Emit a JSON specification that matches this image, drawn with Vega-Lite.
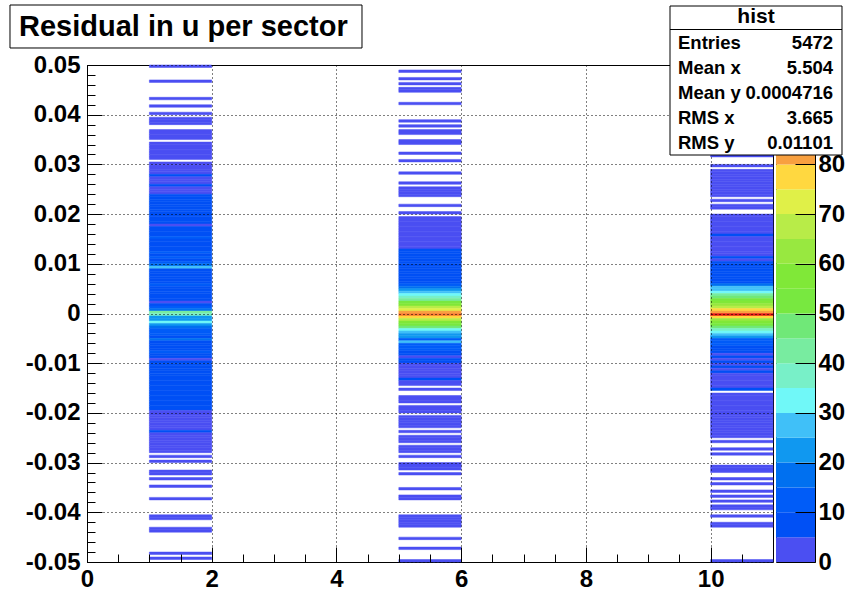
{
"$schema": "https://vega.github.io/schema/vega-lite/v6.json",
"autosize": {"type": "pad"},
"padding": {"left": 8, "top": 4, "right": 0, "bottom": 0},
"background": "white",
"bounds": "flush",
"spacing": 3,
"config": {
  "view": {"stroke": "black", "strokeWidth": 1},
  "axis": {"labelFont": "Liberation Sans", "labelFontWeight": "bold", "labelFontSize": 24, "labelColor": "black", "tickColor": "black", "tickWidth": 1, "domain": false, "labelOverlap": false, "labelFlush": false}
},
"resolve": {"scale": {"color": "independent", "x": "independent", "y": "independent"}},
"datasets": {
"pal": [{"lo":0,"hi":5},{"lo":5,"hi":10},{"lo":10,"hi":15},{"lo":15,"hi":20},{"lo":20,"hi":25},{"lo":25,"hi":30},{"lo":30,"hi":35},{"lo":35,"hi":40},{"lo":40,"hi":45},{"lo":45,"hi":50},{"lo":50,"hi":55},{"lo":55,"hi":60},{"lo":60,"hi":65},{"lo":65,"hi":70},{"lo":70,"hi":75},{"lo":75,"hi":80},{"lo":80,"hi":85},{"lo":85,"hi":90},{"lo":90,"hi":95},{"lo":95,"hi":100}],
"h": [
{"x":1,"x2":2,"y":0.0495,"y2":0.05,"n":1},
{"x":1,"x2":2,"y":0.0465,"y2":0.047,"n":1},
{"x":1,"x2":2,"y":0.043,"y2":0.0435,"n":1},
{"x":1,"x2":2,"y":0.0415,"y2":0.042,"n":1},
{"x":1,"x2":2,"y":0.04,"y2":0.0405,"n":1},
{"x":1,"x2":2,"y":0.039,"y2":0.0395,"n":2},
{"x":1,"x2":2,"y":0.0385,"y2":0.039,"n":2},
{"x":1,"x2":2,"y":0.038,"y2":0.0385,"n":1},
{"x":1,"x2":2,"y":0.0365,"y2":0.037,"n":2},
{"x":1,"x2":2,"y":0.036,"y2":0.0365,"n":1},
{"x":1,"x2":2,"y":0.0355,"y2":0.036,"n":2},
{"x":1,"x2":2,"y":0.035,"y2":0.0355,"n":1},
{"x":1,"x2":2,"y":0.034,"y2":0.0345,"n":2},
{"x":1,"x2":2,"y":0.0335,"y2":0.034,"n":3},
{"x":1,"x2":2,"y":0.033,"y2":0.0335,"n":2},
{"x":1,"x2":2,"y":0.0325,"y2":0.033,"n":3},
{"x":1,"x2":2,"y":0.032,"y2":0.0325,"n":2},
{"x":1,"x2":2,"y":0.0315,"y2":0.032,"n":3},
{"x":1,"x2":2,"y":0.031,"y2":0.0315,"n":2},
{"x":1,"x2":2,"y":0.03,"y2":0.0305,"n":3},
{"x":1,"x2":2,"y":0.0295,"y2":0.03,"n":4},
{"x":1,"x2":2,"y":0.029,"y2":0.0295,"n":3},
{"x":1,"x2":2,"y":0.0285,"y2":0.029,"n":4},
{"x":1,"x2":2,"y":0.028,"y2":0.0285,"n":3},
{"x":1,"x2":2,"y":0.0275,"y2":0.028,"n":6},
{"x":1,"x2":2,"y":0.027,"y2":0.0275,"n":4},
{"x":1,"x2":2,"y":0.0265,"y2":0.027,"n":3},
{"x":1,"x2":2,"y":0.026,"y2":0.0265,"n":4},
{"x":1,"x2":2,"y":0.0255,"y2":0.026,"n":6},
{"x":1,"x2":2,"y":0.025,"y2":0.0255,"n":4},
{"x":1,"x2":2,"y":0.0245,"y2":0.025,"n":4},
{"x":1,"x2":2,"y":0.024,"y2":0.0245,"n":4},
{"x":1,"x2":2,"y":0.0235,"y2":0.024,"n":7},
{"x":1,"x2":2,"y":0.023,"y2":0.0235,"n":8},
{"x":1,"x2":2,"y":0.0225,"y2":0.023,"n":6},
{"x":1,"x2":2,"y":0.022,"y2":0.0225,"n":9},
{"x":1,"x2":2,"y":0.0215,"y2":0.022,"n":7},
{"x":1,"x2":2,"y":0.021,"y2":0.0215,"n":8},
{"x":1,"x2":2,"y":0.0205,"y2":0.021,"n":6},
{"x":1,"x2":2,"y":0.02,"y2":0.0205,"n":7},
{"x":1,"x2":2,"y":0.0195,"y2":0.02,"n":9},
{"x":1,"x2":2,"y":0.019,"y2":0.0195,"n":8},
{"x":1,"x2":2,"y":0.0185,"y2":0.019,"n":7},
{"x":1,"x2":2,"y":0.018,"y2":0.0185,"n":6},
{"x":1,"x2":2,"y":0.0175,"y2":0.018,"n":4},
{"x":1,"x2":2,"y":0.017,"y2":0.0175,"n":7},
{"x":1,"x2":2,"y":0.0165,"y2":0.017,"n":8},
{"x":1,"x2":2,"y":0.016,"y2":0.0165,"n":6},
{"x":1,"x2":2,"y":0.0155,"y2":0.016,"n":8},
{"x":1,"x2":2,"y":0.015,"y2":0.0155,"n":11},
{"x":1,"x2":2,"y":0.0145,"y2":0.015,"n":7},
{"x":1,"x2":2,"y":0.014,"y2":0.0145,"n":9},
{"x":1,"x2":2,"y":0.0135,"y2":0.014,"n":8},
{"x":1,"x2":2,"y":0.013,"y2":0.0135,"n":6},
{"x":1,"x2":2,"y":0.0125,"y2":0.013,"n":9},
{"x":1,"x2":2,"y":0.012,"y2":0.0125,"n":11},
{"x":1,"x2":2,"y":0.0115,"y2":0.012,"n":9},
{"x":1,"x2":2,"y":0.011,"y2":0.0115,"n":12},
{"x":1,"x2":2,"y":0.0105,"y2":0.011,"n":9},
{"x":1,"x2":2,"y":0.01,"y2":0.0105,"n":13},
{"x":1,"x2":2,"y":0.0095,"y2":0.01,"n":16},
{"x":1,"x2":2,"y":0.009,"y2":0.0095,"n":27},
{"x":1,"x2":2,"y":0.0085,"y2":0.009,"n":8},
{"x":1,"x2":2,"y":0.008,"y2":0.0085,"n":9},
{"x":1,"x2":2,"y":0.0075,"y2":0.008,"n":7},
{"x":1,"x2":2,"y":0.007,"y2":0.0075,"n":9},
{"x":1,"x2":2,"y":0.0065,"y2":0.007,"n":8},
{"x":1,"x2":2,"y":0.006,"y2":0.0065,"n":9},
{"x":1,"x2":2,"y":0.0055,"y2":0.006,"n":11},
{"x":1,"x2":2,"y":0.005,"y2":0.0055,"n":9},
{"x":1,"x2":2,"y":0.0045,"y2":0.005,"n":8},
{"x":1,"x2":2,"y":0.004,"y2":0.0045,"n":9},
{"x":1,"x2":2,"y":0.0035,"y2":0.004,"n":7},
{"x":1,"x2":2,"y":0.003,"y2":0.0035,"n":9},
{"x":1,"x2":2,"y":0.0025,"y2":0.003,"n":8},
{"x":1,"x2":2,"y":0.002,"y2":0.0025,"n":4},
{"x":1,"x2":2,"y":0.0015,"y2":0.002,"n":8},
{"x":1,"x2":2,"y":0.001,"y2":0.0015,"n":13},
{"x":1,"x2":2,"y":0.0005,"y2":0.001,"n":17},
{"x":1,"x2":2,"y":0,"y2":0.0005,"n":42},
{"x":1,"x2":2,"y":-0.0005,"y2":0,"n":38},
{"x":1,"x2":2,"y":-0.001,"y2":-0.0005,"n":22},
{"x":1,"x2":2,"y":-0.0015,"y2":-0.001,"n":21},
{"x":1,"x2":2,"y":-0.002,"y2":-0.0015,"n":32},
{"x":1,"x2":2,"y":-0.0025,"y2":-0.002,"n":22},
{"x":1,"x2":2,"y":-0.003,"y2":-0.0025,"n":18},
{"x":1,"x2":2,"y":-0.0035,"y2":-0.003,"n":12},
{"x":1,"x2":2,"y":-0.004,"y2":-0.0035,"n":11},
{"x":1,"x2":2,"y":-0.0045,"y2":-0.004,"n":13},
{"x":1,"x2":2,"y":-0.005,"y2":-0.0045,"n":9},
{"x":1,"x2":2,"y":-0.0055,"y2":-0.005,"n":17},
{"x":1,"x2":2,"y":-0.006,"y2":-0.0055,"n":9},
{"x":1,"x2":2,"y":-0.0065,"y2":-0.006,"n":9},
{"x":1,"x2":2,"y":-0.007,"y2":-0.0065,"n":8},
{"x":1,"x2":2,"y":-0.0075,"y2":-0.007,"n":9},
{"x":1,"x2":2,"y":-0.008,"y2":-0.0075,"n":11},
{"x":1,"x2":2,"y":-0.0085,"y2":-0.008,"n":9},
{"x":1,"x2":2,"y":-0.009,"y2":-0.0085,"n":8},
{"x":1,"x2":2,"y":-0.0095,"y2":-0.009,"n":4},
{"x":1,"x2":2,"y":-0.01,"y2":-0.0095,"n":9},
{"x":1,"x2":2,"y":-0.0105,"y2":-0.01,"n":8},
{"x":1,"x2":2,"y":-0.011,"y2":-0.0105,"n":9},
{"x":1,"x2":2,"y":-0.0115,"y2":-0.011,"n":7},
{"x":1,"x2":2,"y":-0.012,"y2":-0.0115,"n":9},
{"x":1,"x2":2,"y":-0.0125,"y2":-0.012,"n":8},
{"x":1,"x2":2,"y":-0.013,"y2":-0.0125,"n":9},
{"x":1,"x2":2,"y":-0.0135,"y2":-0.013,"n":7},
{"x":1,"x2":2,"y":-0.014,"y2":-0.0135,"n":8},
{"x":1,"x2":2,"y":-0.0145,"y2":-0.014,"n":9},
{"x":1,"x2":2,"y":-0.015,"y2":-0.0145,"n":8},
{"x":1,"x2":2,"y":-0.0155,"y2":-0.015,"n":8},
{"x":1,"x2":2,"y":-0.016,"y2":-0.0155,"n":7},
{"x":1,"x2":2,"y":-0.0165,"y2":-0.016,"n":9},
{"x":1,"x2":2,"y":-0.017,"y2":-0.0165,"n":8},
{"x":1,"x2":2,"y":-0.0175,"y2":-0.017,"n":6},
{"x":1,"x2":2,"y":-0.018,"y2":-0.0175,"n":9},
{"x":1,"x2":2,"y":-0.0185,"y2":-0.018,"n":7},
{"x":1,"x2":2,"y":-0.019,"y2":-0.0185,"n":8},
{"x":1,"x2":2,"y":-0.0195,"y2":-0.019,"n":6},
{"x":1,"x2":2,"y":-0.02,"y2":-0.0195,"n":3},
{"x":1,"x2":2,"y":-0.0205,"y2":-0.02,"n":4},
{"x":1,"x2":2,"y":-0.021,"y2":-0.0205,"n":3},
{"x":1,"x2":2,"y":-0.0215,"y2":-0.021,"n":2},
{"x":1,"x2":2,"y":-0.022,"y2":-0.0215,"n":4},
{"x":1,"x2":2,"y":-0.0225,"y2":-0.022,"n":3},
{"x":1,"x2":2,"y":-0.023,"y2":-0.0225,"n":2},
{"x":1,"x2":2,"y":-0.0235,"y2":-0.023,"n":3},
{"x":1,"x2":2,"y":-0.024,"y2":-0.0235,"n":6},
{"x":1,"x2":2,"y":-0.0245,"y2":-0.024,"n":3},
{"x":1,"x2":2,"y":-0.025,"y2":-0.0245,"n":2},
{"x":1,"x2":2,"y":-0.0255,"y2":-0.025,"n":3},
{"x":1,"x2":2,"y":-0.026,"y2":-0.0255,"n":2},
{"x":1,"x2":2,"y":-0.0265,"y2":-0.026,"n":3},
{"x":1,"x2":2,"y":-0.027,"y2":-0.0265,"n":2},
{"x":1,"x2":2,"y":-0.0275,"y2":-0.027,"n":2},
{"x":1,"x2":2,"y":-0.028,"y2":-0.0275,"n":3},
{"x":1,"x2":2,"y":-0.029,"y2":-0.0285,"n":1},
{"x":1,"x2":2,"y":-0.03,"y2":-0.0295,"n":1},
{"x":1,"x2":2,"y":-0.032,"y2":-0.0315,"n":1},
{"x":1,"x2":2,"y":-0.0325,"y2":-0.032,"n":1},
{"x":1,"x2":2,"y":-0.0335,"y2":-0.033,"n":1},
{"x":1,"x2":2,"y":-0.035,"y2":-0.0345,"n":1},
{"x":1,"x2":2,"y":-0.0375,"y2":-0.037,"n":1},
{"x":1,"x2":2,"y":-0.041,"y2":-0.0405,"n":1},
{"x":1,"x2":2,"y":-0.0415,"y2":-0.041,"n":1},
{"x":1,"x2":2,"y":-0.0435,"y2":-0.043,"n":1},
{"x":1,"x2":2,"y":-0.044,"y2":-0.0435,"n":1},
{"x":1,"x2":2,"y":-0.0485,"y2":-0.048,"n":1},
{"x":1,"x2":2,"y":-0.0495,"y2":-0.049,"n":1},
{"x":5,"x2":6,"y":0.0485,"y2":0.049,"n":1},
{"x":5,"x2":6,"y":0.047,"y2":0.0475,"n":1},
{"x":5,"x2":6,"y":0.046,"y2":0.0465,"n":1},
{"x":5,"x2":6,"y":0.045,"y2":0.0455,"n":1},
{"x":5,"x2":6,"y":0.0445,"y2":0.045,"n":1},
{"x":5,"x2":6,"y":0.042,"y2":0.0425,"n":1},
{"x":5,"x2":6,"y":0.0385,"y2":0.039,"n":1},
{"x":5,"x2":6,"y":0.0375,"y2":0.038,"n":1},
{"x":5,"x2":6,"y":0.0365,"y2":0.037,"n":2},
{"x":5,"x2":6,"y":0.036,"y2":0.0365,"n":1},
{"x":5,"x2":6,"y":0.0345,"y2":0.035,"n":1},
{"x":5,"x2":6,"y":0.034,"y2":0.0345,"n":2},
{"x":5,"x2":6,"y":0.032,"y2":0.0325,"n":1},
{"x":5,"x2":6,"y":0.0305,"y2":0.031,"n":1},
{"x":5,"x2":6,"y":0.028,"y2":0.0285,"n":2},
{"x":5,"x2":6,"y":0.026,"y2":0.0265,"n":1},
{"x":5,"x2":6,"y":0.025,"y2":0.0255,"n":2},
{"x":5,"x2":6,"y":0.0245,"y2":0.025,"n":1},
{"x":5,"x2":6,"y":0.024,"y2":0.0245,"n":2},
{"x":5,"x2":6,"y":0.0235,"y2":0.024,"n":1},
{"x":5,"x2":6,"y":0.0215,"y2":0.022,"n":1},
{"x":5,"x2":6,"y":0.02,"y2":0.0205,"n":1},
{"x":5,"x2":6,"y":0.019,"y2":0.0195,"n":2},
{"x":5,"x2":6,"y":0.0185,"y2":0.019,"n":3},
{"x":5,"x2":6,"y":0.018,"y2":0.0185,"n":2},
{"x":5,"x2":6,"y":0.0175,"y2":0.018,"n":4},
{"x":5,"x2":6,"y":0.017,"y2":0.0175,"n":3},
{"x":5,"x2":6,"y":0.0165,"y2":0.017,"n":3},
{"x":5,"x2":6,"y":0.016,"y2":0.0165,"n":2},
{"x":5,"x2":6,"y":0.0155,"y2":0.016,"n":4},
{"x":5,"x2":6,"y":0.015,"y2":0.0155,"n":3},
{"x":5,"x2":6,"y":0.0145,"y2":0.015,"n":4},
{"x":5,"x2":6,"y":0.014,"y2":0.0145,"n":3},
{"x":5,"x2":6,"y":0.0135,"y2":0.014,"n":4},
{"x":5,"x2":6,"y":0.013,"y2":0.0135,"n":4},
{"x":5,"x2":6,"y":0.0125,"y2":0.013,"n":6},
{"x":5,"x2":6,"y":0.012,"y2":0.0125,"n":7},
{"x":5,"x2":6,"y":0.0115,"y2":0.012,"n":6},
{"x":5,"x2":6,"y":0.011,"y2":0.0115,"n":8},
{"x":5,"x2":6,"y":0.0105,"y2":0.011,"n":7},
{"x":5,"x2":6,"y":0.01,"y2":0.0105,"n":9},
{"x":5,"x2":6,"y":0.0095,"y2":0.01,"n":8},
{"x":5,"x2":6,"y":0.009,"y2":0.0095,"n":7},
{"x":5,"x2":6,"y":0.0085,"y2":0.009,"n":9},
{"x":5,"x2":6,"y":0.008,"y2":0.0085,"n":8},
{"x":5,"x2":6,"y":0.0075,"y2":0.008,"n":9},
{"x":5,"x2":6,"y":0.007,"y2":0.0075,"n":8},
{"x":5,"x2":6,"y":0.0065,"y2":0.007,"n":9},
{"x":5,"x2":6,"y":0.006,"y2":0.0065,"n":7},
{"x":5,"x2":6,"y":0.0055,"y2":0.006,"n":12},
{"x":5,"x2":6,"y":0.005,"y2":0.0055,"n":17},
{"x":5,"x2":6,"y":0.0045,"y2":0.005,"n":22},
{"x":5,"x2":6,"y":0.004,"y2":0.0045,"n":27},
{"x":5,"x2":6,"y":0.0035,"y2":0.004,"n":32},
{"x":5,"x2":6,"y":0.003,"y2":0.0035,"n":36},
{"x":5,"x2":6,"y":0.0025,"y2":0.003,"n":40},
{"x":5,"x2":6,"y":0.002,"y2":0.0025,"n":50},
{"x":5,"x2":6,"y":0.0015,"y2":0.002,"n":56},
{"x":5,"x2":6,"y":0.001,"y2":0.0015,"n":66},
{"x":5,"x2":6,"y":0.0005,"y2":0.001,"n":74},
{"x":5,"x2":6,"y":0,"y2":0.0005,"n":82},
{"x":5,"x2":6,"y":-0.0005,"y2":0,"n":88},
{"x":5,"x2":6,"y":-0.001,"y2":-0.0005,"n":76},
{"x":5,"x2":6,"y":-0.0015,"y2":-0.001,"n":68},
{"x":5,"x2":6,"y":-0.002,"y2":-0.0015,"n":58},
{"x":5,"x2":6,"y":-0.0025,"y2":-0.002,"n":52},
{"x":5,"x2":6,"y":-0.003,"y2":-0.0025,"n":45},
{"x":5,"x2":6,"y":-0.0035,"y2":-0.003,"n":34},
{"x":5,"x2":6,"y":-0.004,"y2":-0.0035,"n":28},
{"x":5,"x2":6,"y":-0.0045,"y2":-0.004,"n":23},
{"x":5,"x2":6,"y":-0.005,"y2":-0.0045,"n":21},
{"x":5,"x2":6,"y":-0.0055,"y2":-0.005,"n":13},
{"x":5,"x2":6,"y":-0.006,"y2":-0.0055,"n":26},
{"x":5,"x2":6,"y":-0.0065,"y2":-0.006,"n":12},
{"x":5,"x2":6,"y":-0.007,"y2":-0.0065,"n":11},
{"x":5,"x2":6,"y":-0.0075,"y2":-0.007,"n":13},
{"x":5,"x2":6,"y":-0.008,"y2":-0.0075,"n":9},
{"x":5,"x2":6,"y":-0.0085,"y2":-0.008,"n":5},
{"x":5,"x2":6,"y":-0.009,"y2":-0.0085,"n":4},
{"x":5,"x2":6,"y":-0.0095,"y2":-0.009,"n":6},
{"x":5,"x2":6,"y":-0.01,"y2":-0.0095,"n":7},
{"x":5,"x2":6,"y":-0.0105,"y2":-0.01,"n":3},
{"x":5,"x2":6,"y":-0.011,"y2":-0.0105,"n":4},
{"x":5,"x2":6,"y":-0.0115,"y2":-0.011,"n":3},
{"x":5,"x2":6,"y":-0.012,"y2":-0.0115,"n":2},
{"x":5,"x2":6,"y":-0.0125,"y2":-0.012,"n":4},
{"x":5,"x2":6,"y":-0.013,"y2":-0.0125,"n":3},
{"x":5,"x2":6,"y":-0.0135,"y2":-0.013,"n":5},
{"x":5,"x2":6,"y":-0.014,"y2":-0.0135,"n":3},
{"x":5,"x2":6,"y":-0.0145,"y2":-0.014,"n":2},
{"x":5,"x2":6,"y":-0.0155,"y2":-0.015,"n":1},
{"x":5,"x2":6,"y":-0.017,"y2":-0.0165,"n":2},
{"x":5,"x2":6,"y":-0.0175,"y2":-0.017,"n":3},
{"x":5,"x2":6,"y":-0.018,"y2":-0.0175,"n":1},
{"x":5,"x2":6,"y":-0.019,"y2":-0.0185,"n":2},
{"x":5,"x2":6,"y":-0.0195,"y2":-0.019,"n":3},
{"x":5,"x2":6,"y":-0.02,"y2":-0.0195,"n":2},
{"x":5,"x2":6,"y":-0.021,"y2":-0.0205,"n":3},
{"x":5,"x2":6,"y":-0.0215,"y2":-0.021,"n":2},
{"x":5,"x2":6,"y":-0.022,"y2":-0.0215,"n":3},
{"x":5,"x2":6,"y":-0.0225,"y2":-0.022,"n":2},
{"x":5,"x2":6,"y":-0.023,"y2":-0.0225,"n":2},
{"x":5,"x2":6,"y":-0.024,"y2":-0.0235,"n":1},
{"x":5,"x2":6,"y":-0.025,"y2":-0.0245,"n":2},
{"x":5,"x2":6,"y":-0.0255,"y2":-0.025,"n":1},
{"x":5,"x2":6,"y":-0.026,"y2":-0.0255,"n":2},
{"x":5,"x2":6,"y":-0.027,"y2":-0.0265,"n":1},
{"x":5,"x2":6,"y":-0.0275,"y2":-0.027,"n":2},
{"x":5,"x2":6,"y":-0.028,"y2":-0.0275,"n":1},
{"x":5,"x2":6,"y":-0.029,"y2":-0.0285,"n":1},
{"x":5,"x2":6,"y":-0.0305,"y2":-0.03,"n":1},
{"x":5,"x2":6,"y":-0.031,"y2":-0.0305,"n":2},
{"x":5,"x2":6,"y":-0.0315,"y2":-0.031,"n":1},
{"x":5,"x2":6,"y":-0.0325,"y2":-0.032,"n":1},
{"x":5,"x2":6,"y":-0.0355,"y2":-0.035,"n":1},
{"x":5,"x2":6,"y":-0.037,"y2":-0.0365,"n":1},
{"x":5,"x2":6,"y":-0.0375,"y2":-0.037,"n":1},
{"x":5,"x2":6,"y":-0.041,"y2":-0.0405,"n":1},
{"x":5,"x2":6,"y":-0.0415,"y2":-0.041,"n":1},
{"x":5,"x2":6,"y":-0.042,"y2":-0.0415,"n":2},
{"x":5,"x2":6,"y":-0.0425,"y2":-0.042,"n":1},
{"x":5,"x2":6,"y":-0.043,"y2":-0.0425,"n":1},
{"x":5,"x2":6,"y":-0.0455,"y2":-0.045,"n":1},
{"x":5,"x2":6,"y":-0.0475,"y2":-0.047,"n":1},
{"x":5,"x2":6,"y":-0.05,"y2":-0.0495,"n":1},
{"x":10,"x2":11,"y":0.048,"y2":0.0485,"n":1},
{"x":10,"x2":11,"y":0.0445,"y2":0.045,"n":1},
{"x":10,"x2":11,"y":0.0405,"y2":0.041,"n":1},
{"x":10,"x2":11,"y":0.037,"y2":0.0375,"n":1},
{"x":10,"x2":11,"y":0.0345,"y2":0.035,"n":1},
{"x":10,"x2":11,"y":0.033,"y2":0.0335,"n":1},
{"x":10,"x2":11,"y":0.0315,"y2":0.032,"n":1},
{"x":10,"x2":11,"y":0.0295,"y2":0.03,"n":1},
{"x":10,"x2":11,"y":0.0285,"y2":0.029,"n":1},
{"x":10,"x2":11,"y":0.028,"y2":0.0285,"n":3},
{"x":10,"x2":11,"y":0.0275,"y2":0.028,"n":2},
{"x":10,"x2":11,"y":0.027,"y2":0.0275,"n":4},
{"x":10,"x2":11,"y":0.0265,"y2":0.027,"n":3},
{"x":10,"x2":11,"y":0.026,"y2":0.0265,"n":3},
{"x":10,"x2":11,"y":0.0255,"y2":0.026,"n":2},
{"x":10,"x2":11,"y":0.025,"y2":0.0255,"n":4},
{"x":10,"x2":11,"y":0.0245,"y2":0.025,"n":3},
{"x":10,"x2":11,"y":0.024,"y2":0.0245,"n":3},
{"x":10,"x2":11,"y":0.0235,"y2":0.024,"n":2},
{"x":10,"x2":11,"y":0.0225,"y2":0.023,"n":2},
{"x":10,"x2":11,"y":0.0215,"y2":0.022,"n":1},
{"x":10,"x2":11,"y":0.021,"y2":0.0215,"n":1},
{"x":10,"x2":11,"y":0.0195,"y2":0.02,"n":3},
{"x":10,"x2":11,"y":0.019,"y2":0.0195,"n":2},
{"x":10,"x2":11,"y":0.0185,"y2":0.019,"n":3},
{"x":10,"x2":11,"y":0.018,"y2":0.0185,"n":4},
{"x":10,"x2":11,"y":0.0175,"y2":0.018,"n":3},
{"x":10,"x2":11,"y":0.017,"y2":0.0175,"n":2},
{"x":10,"x2":11,"y":0.0165,"y2":0.017,"n":3},
{"x":10,"x2":11,"y":0.016,"y2":0.0165,"n":3},
{"x":10,"x2":11,"y":0.0155,"y2":0.016,"n":6},
{"x":10,"x2":11,"y":0.015,"y2":0.0155,"n":3},
{"x":10,"x2":11,"y":0.0145,"y2":0.015,"n":4},
{"x":10,"x2":11,"y":0.014,"y2":0.0145,"n":3},
{"x":10,"x2":11,"y":0.0135,"y2":0.014,"n":2},
{"x":10,"x2":11,"y":0.013,"y2":0.0135,"n":4},
{"x":10,"x2":11,"y":0.0125,"y2":0.013,"n":3},
{"x":10,"x2":11,"y":0.012,"y2":0.0125,"n":3},
{"x":10,"x2":11,"y":0.0115,"y2":0.012,"n":4},
{"x":10,"x2":11,"y":0.011,"y2":0.0115,"n":6},
{"x":10,"x2":11,"y":0.0105,"y2":0.011,"n":3},
{"x":10,"x2":11,"y":0.01,"y2":0.0105,"n":7},
{"x":10,"x2":11,"y":0.0095,"y2":0.01,"n":7},
{"x":10,"x2":11,"y":0.009,"y2":0.0095,"n":8},
{"x":10,"x2":11,"y":0.0085,"y2":0.009,"n":6},
{"x":10,"x2":11,"y":0.008,"y2":0.0085,"n":9},
{"x":10,"x2":11,"y":0.0075,"y2":0.008,"n":8},
{"x":10,"x2":11,"y":0.007,"y2":0.0075,"n":7},
{"x":10,"x2":11,"y":0.0065,"y2":0.007,"n":9},
{"x":10,"x2":11,"y":0.006,"y2":0.0065,"n":8},
{"x":10,"x2":11,"y":0.0055,"y2":0.006,"n":16},
{"x":10,"x2":11,"y":0.005,"y2":0.0055,"n":26},
{"x":10,"x2":11,"y":0.0045,"y2":0.005,"n":29},
{"x":10,"x2":11,"y":0.004,"y2":0.0045,"n":33},
{"x":10,"x2":11,"y":0.0035,"y2":0.004,"n":42},
{"x":10,"x2":11,"y":0.003,"y2":0.0035,"n":48},
{"x":10,"x2":11,"y":0.0025,"y2":0.003,"n":52},
{"x":10,"x2":11,"y":0.002,"y2":0.0025,"n":56},
{"x":10,"x2":11,"y":0.0015,"y2":0.002,"n":62},
{"x":10,"x2":11,"y":0.001,"y2":0.0015,"n":68},
{"x":10,"x2":11,"y":0.0005,"y2":0.001,"n":76},
{"x":10,"x2":11,"y":0,"y2":0.0005,"n":84},
{"x":10,"x2":11,"y":-0.0005,"y2":0,"n":97},
{"x":10,"x2":11,"y":-0.001,"y2":-0.0005,"n":77},
{"x":10,"x2":11,"y":-0.0015,"y2":-0.001,"n":64},
{"x":10,"x2":11,"y":-0.002,"y2":-0.0015,"n":56},
{"x":10,"x2":11,"y":-0.0025,"y2":-0.002,"n":52},
{"x":10,"x2":11,"y":-0.003,"y2":-0.0025,"n":47},
{"x":10,"x2":11,"y":-0.0035,"y2":-0.003,"n":36},
{"x":10,"x2":11,"y":-0.004,"y2":-0.0035,"n":31},
{"x":10,"x2":11,"y":-0.0045,"y2":-0.004,"n":26},
{"x":10,"x2":11,"y":-0.005,"y2":-0.0045,"n":22},
{"x":10,"x2":11,"y":-0.0055,"y2":-0.005,"n":14},
{"x":10,"x2":11,"y":-0.006,"y2":-0.0055,"n":11},
{"x":10,"x2":11,"y":-0.0065,"y2":-0.006,"n":12},
{"x":10,"x2":11,"y":-0.007,"y2":-0.0065,"n":9},
{"x":10,"x2":11,"y":-0.0075,"y2":-0.007,"n":7},
{"x":10,"x2":11,"y":-0.008,"y2":-0.0075,"n":5},
{"x":10,"x2":11,"y":-0.0085,"y2":-0.008,"n":4},
{"x":10,"x2":11,"y":-0.009,"y2":-0.0085,"n":6},
{"x":10,"x2":11,"y":-0.0095,"y2":-0.009,"n":3},
{"x":10,"x2":11,"y":-0.01,"y2":-0.0095,"n":7},
{"x":10,"x2":11,"y":-0.0105,"y2":-0.01,"n":4},
{"x":10,"x2":11,"y":-0.011,"y2":-0.0105,"n":6},
{"x":10,"x2":11,"y":-0.0115,"y2":-0.011,"n":3},
{"x":10,"x2":11,"y":-0.012,"y2":-0.0115,"n":5},
{"x":10,"x2":11,"y":-0.0125,"y2":-0.012,"n":3},
{"x":10,"x2":11,"y":-0.013,"y2":-0.0125,"n":2},
{"x":10,"x2":11,"y":-0.0135,"y2":-0.013,"n":3},
{"x":10,"x2":11,"y":-0.014,"y2":-0.0135,"n":4},
{"x":10,"x2":11,"y":-0.0145,"y2":-0.014,"n":2},
{"x":10,"x2":11,"y":-0.015,"y2":-0.0145,"n":3},
{"x":10,"x2":11,"y":-0.0155,"y2":-0.015,"n":5},
{"x":10,"x2":11,"y":-0.0165,"y2":-0.016,"n":3},
{"x":10,"x2":11,"y":-0.017,"y2":-0.0165,"n":2},
{"x":10,"x2":11,"y":-0.0175,"y2":-0.017,"n":3},
{"x":10,"x2":11,"y":-0.018,"y2":-0.0175,"n":2},
{"x":10,"x2":11,"y":-0.0185,"y2":-0.018,"n":4},
{"x":10,"x2":11,"y":-0.019,"y2":-0.0185,"n":3},
{"x":10,"x2":11,"y":-0.0195,"y2":-0.019,"n":2},
{"x":10,"x2":11,"y":-0.02,"y2":-0.0195,"n":3},
{"x":10,"x2":11,"y":-0.0205,"y2":-0.02,"n":3},
{"x":10,"x2":11,"y":-0.021,"y2":-0.0205,"n":2},
{"x":10,"x2":11,"y":-0.0215,"y2":-0.021,"n":4},
{"x":10,"x2":11,"y":-0.022,"y2":-0.0215,"n":3},
{"x":10,"x2":11,"y":-0.0225,"y2":-0.022,"n":2},
{"x":10,"x2":11,"y":-0.023,"y2":-0.0225,"n":3},
{"x":10,"x2":11,"y":-0.0235,"y2":-0.023,"n":2},
{"x":10,"x2":11,"y":-0.024,"y2":-0.0235,"n":3},
{"x":10,"x2":11,"y":-0.0245,"y2":-0.024,"n":2},
{"x":10,"x2":11,"y":-0.025,"y2":-0.0245,"n":3},
{"x":10,"x2":11,"y":-0.026,"y2":-0.0255,"n":2},
{"x":10,"x2":11,"y":-0.0275,"y2":-0.027,"n":1},
{"x":10,"x2":11,"y":-0.0285,"y2":-0.028,"n":1},
{"x":10,"x2":11,"y":-0.031,"y2":-0.0305,"n":2},
{"x":10,"x2":11,"y":-0.0315,"y2":-0.031,"n":1},
{"x":10,"x2":11,"y":-0.032,"y2":-0.0315,"n":2},
{"x":10,"x2":11,"y":-0.0335,"y2":-0.033,"n":1},
{"x":10,"x2":11,"y":-0.0345,"y2":-0.034,"n":2},
{"x":10,"x2":11,"y":-0.036,"y2":-0.0355,"n":1},
{"x":10,"x2":11,"y":-0.037,"y2":-0.0365,"n":1},
{"x":10,"x2":11,"y":-0.038,"y2":-0.0375,"n":1},
{"x":10,"x2":11,"y":-0.039,"y2":-0.0385,"n":2},
{"x":10,"x2":11,"y":-0.0395,"y2":-0.039,"n":1},
{"x":10,"x2":11,"y":-0.041,"y2":-0.0405,"n":1},
{"x":10,"x2":11,"y":-0.0425,"y2":-0.042,"n":2},
{"x":10,"x2":11,"y":-0.043,"y2":-0.0425,"n":1},
{"x":10,"x2":11,"y":-0.05,"y2":-0.0495,"n":1}
]
},
"hconcat": [
{
  "width": 686,
  "height": 497,
  "resolve": {"axis": {"x": "independent", "y": "independent"}},
  "layer": [
    {
      "data": {"name": "h"},
      "mark": {"type": "rect", "strokeWidth": 0.5},
      "encoding": {
        "x": {"field": "x", "type": "quantitative", "title": null,
              "scale": {"domain": [0, 11], "nice": false, "zero": false},
              "axis": {"orient": "bottom", "values": [0, 2, 4, 6, 8, 10], "grid": true, "gridColor": "black", "gridDash": [1, 3], "gridOpacity": 1, "gridWidth": 1, "tickSize": -15, "labelPadding": 20, "zindex": 1}},
        "x2": {"field": "x2"},
        "y": {"field": "y", "type": "quantitative", "title": null,
              "scale": {"domain": [-0.05, 0.05], "nice": false, "zero": false},
              "axis": {"orient": "left", "values": [-0.05, -0.04, -0.03, -0.02, -0.01, 0, 0.01, 0.02, 0.03, 0.04, 0.05], "labelExpr": "datum.value == 0 ? '0' : (datum.value < 0 ? '-' : '') + format(abs(datum.value), '.2f')", "grid": true, "gridColor": "black", "gridDash": [1, 3], "gridOpacity": 1, "gridWidth": 1, "tickSize": -15, "labelPadding": 22, "zindex": 1}},
        "y2": {"field": "y2"},
        "color": {"field": "n", "type": "quantitative", "legend": null,
                  "scale": {"type": "quantize", "domain": [0, 100], "nice": false, "range": ["#4b4ff2","#0050f5","#005cf8","#0070f0","#1098f0","#40c0f8","#70f8f8","#78f0c8","#78eca0","#70e878","#78e840","#80e838","#98e840","#b8ec48","#e0f048","#ffd840","#f8a040","#f87830","#f04828","#e81818"]}},
        "stroke": {"field": "n", "type": "quantitative", "legend": null,
                  "scale": {"type": "quantize", "domain": [0, 100], "nice": false, "range": ["#4b4ff2","#0050f5","#005cf8","#0070f0","#1098f0","#40c0f8","#70f8f8","#78f0c8","#78eca0","#70e878","#78e840","#80e838","#98e840","#b8ec48","#e0f048","#ffd840","#f8a040","#f87830","#f04828","#e81818"]}}
      }
    },
    {
      "data": {"name": "h"},
      "mark": {"type": "point", "opacity": 0},
      "encoding": {
        "x": {"field": "x", "type": "quantitative", "title": null,
              "axis": {"orient": "bottom", "values": [0.5, 1, 1.5, 2.5, 3, 3.5, 4.5, 5, 5.5, 6.5, 7, 7.5, 8.5, 9, 9.5, 10.5], "labels": false, "grid": false, "tickSize": -8, "zindex": 1}},
        "y": {"field": "y", "type": "quantitative", "title": null,
              "axis": {"orient": "left", "values": [-0.048, -0.046, -0.044, -0.042, -0.038, -0.036, -0.034, -0.032, -0.028, -0.026, -0.024, -0.022, -0.018, -0.016, -0.014, -0.012, -0.008, -0.006, -0.004, -0.002, 0.002, 0.004, 0.006, 0.008, 0.012, 0.014, 0.016, 0.018, 0.022, 0.024, 0.026, 0.028, 0.032, 0.034, 0.036, 0.038, 0.042, 0.044, 0.046, 0.048], "labels": false, "grid": false, "tickSize": -8, "zindex": 1}}
      }
    },
    {
      "data": {"values": [{}]},
      "mark": {"type": "rect", "fill": "white", "stroke": "black", "strokeWidth": 1},
      "encoding": {
        "x": {"datum": -1.2347, "type": "quantitative", "axis": null},
        "x2": {"datum": 4.4096},
        "y": {"datum": 0.062072, "type": "quantitative", "axis": null},
        "y2": {"datum": 0.053421}
      }
    },
    {
      "data": {"values": [{}]},
      "mark": {"type": "text", "text": "Residual in u per sector", "font": "Liberation Sans", "fontWeight": "bold", "fontSize": 29, "align": "left", "baseline": "middle", "color": "black"},
      "encoding": {
        "x": {"datum": -1.0904, "type": "quantitative", "axis": null},
        "y": {"datum": 0.057646, "type": "quantitative", "axis": null}
      }
    }
  ]
},
{
  "width": 39,
  "height": 497,
  "resolve": {"axis": {"x": "independent", "y": "independent"}},
  "layer": [
    {
      "data": {"name": "pal"},
      "mark": {"type": "rect"},
      "encoding": {
        "x": {"datum": 0, "type": "quantitative", "scale": {"domain": [0, 1], "nice": false, "zero": false}, "axis": null},
        "x2": {"datum": 1},
        "y": {"field": "lo", "type": "quantitative", "title": null,
              "scale": {"domain": [0, 100], "nice": false, "zero": false},
              "axis": {"orient": "right", "values": [0, 10, 20, 30, 40, 50, 60, 70, 80], "grid": false, "tickSize": -20, "labelPadding": 23, "zindex": 1}},
        "y2": {"field": "hi"},
        "color": {"field": "lo", "type": "quantitative", "legend": null,
                  "scale": {"type": "quantize", "domain": [0, 100], "nice": false, "range": ["#4b4ff2","#0050f5","#005cf8","#0070f0","#1098f0","#40c0f8","#70f8f8","#78f0c8","#78eca0","#70e878","#78e840","#80e838","#98e840","#b8ec48","#e0f048","#ffd840","#f8a040","#f87830","#f04828","#e81818"]}}
      }
    },
    {
      "data": {"values": [{}]},
      "mark": {"type": "rect", "fill": "white", "stroke": "black", "strokeWidth": 1},
      "encoding": {
        "x": {"datum": -2.7179, "type": "quantitative", "axis": null},
        "x2": {"datum": 1.6923},
        "y": {"datum": 111.87, "type": "quantitative", "axis": null},
        "y2": {"datum": 81.89}
      }
    },
    {
      "data": {"values": [{}]},
      "mark": {"type": "rule", "color": "black", "strokeWidth": 1},
      "encoding": {
        "x": {"datum": -2.7179, "type": "quantitative", "axis": null},
        "x2": {"datum": 1.6923},
        "y": {"datum": 107.14, "type": "quantitative", "axis": null}
      }
    },
    {
      "data": {"values": [{}]},
      "mark": {"type": "text", "text": "hist", "font": "Liberation Sans", "fontWeight": "bold", "fontSize": 21, "align": "center", "baseline": "middle", "color": "black"},
      "encoding": {
        "x": {"datum": -0.5128, "type": "quantitative", "axis": null},
        "y": {"datum": 109.66, "type": "quantitative", "axis": null}
      }
    },
    {
      "data": {"values": [{}]},
      "mark": {"type": "text", "text": ["Entries", "Mean x", "Mean y", "RMS x", "RMS y"], "lineHeight": 25, "font": "Liberation Sans", "fontWeight": "bold", "fontSize": 18.5, "align": "left", "baseline": "middle", "color": "black"},
      "encoding": {
        "x": {"datum": -2.5128, "type": "quantitative", "axis": null},
        "y": {"datum": 104.49, "type": "quantitative", "axis": null}
      }
    },
    {
      "data": {"values": [{}]},
      "mark": {"type": "text", "text": ["5472", "5.504", "0.0004716", "3.665", "0.01101"], "lineHeight": 25, "font": "Liberation Sans", "fontWeight": "bold", "fontSize": 18.5, "align": "right", "baseline": "middle", "color": "black"},
      "encoding": {
        "x": {"datum": 1.4615, "type": "quantitative", "axis": null},
        "y": {"datum": 104.49, "type": "quantitative", "axis": null}
      }
    }
  ]
}
]
}
